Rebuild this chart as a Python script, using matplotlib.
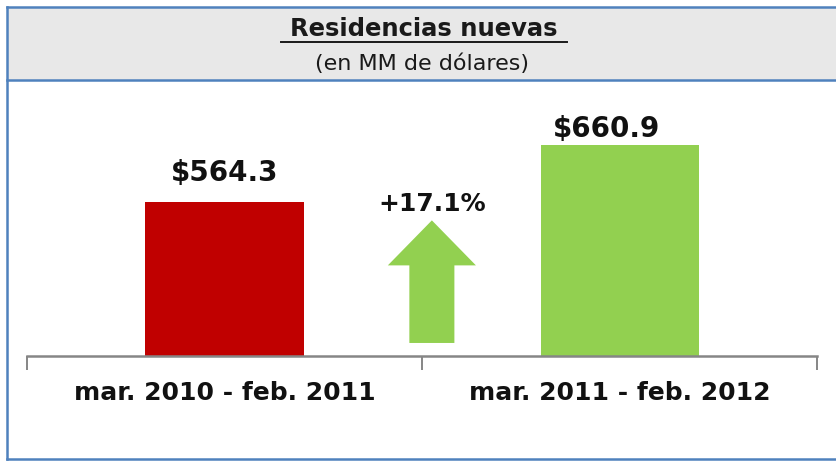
import matplotlib
matplotlib.use("Agg")
import matplotlib.pyplot as plt
from matplotlib.patches import Rectangle, FancyArrow
from matplotlib.lines import Line2D

# Data
categories = ["mar. 2010 - feb. 2011", "mar. 2011 - feb. 2012"]
values = [564.3, 660.9]
value_labels = ["$564.3", "$660.9"]
change_label = "+17.1%"
title = "Residencias nuevas"
subtitle = "(en MM de dólares)"

bar_colors = ["#C00000", "#92D050"]
arrow_color = "#92D050"
frame_color = "#4F81BD"
axis_color = "#868686"

W, H = 837, 461
fig = plt.figure(figsize=(W / 100, H / 100), dpi=100)
fig.patch.set_facecolor("white")

def fx(px):
    return px / W

def fy(py):
    return 1 - py / H

# Header band and frame (open on the right side)
fig.patches.append(Rectangle((fx(7), fy(80)), 1 - fx(7), fy(7) - fy(80),
                             transform=fig.transFigure, facecolor="#E8E8E8",
                             edgecolor="none", zorder=0))
for xs, ys in [([fx(7), 1], [fy(7), fy(7)]),
               ([fx(7), 1], [fy(80), fy(80)]),
               ([fx(7), 1], [fy(459), fy(459)]),
               ([fx(7), fx(7)], [fy(7), fy(459)])]:
    fig.lines.append(Line2D(xs, ys, transform=fig.transFigure,
                            color=frame_color, linewidth=1.8))

fig.text(fx(424), fy(29), title, ha="center", va="center", fontsize=17.5,
         fontweight="bold", color="#1a1a1a")
fig.lines.append(Line2D([fx(281), fx(567)], [fy(42), fy(42)],
                        transform=fig.transFigure, color="#1a1a1a", linewidth=1.4))
fig.text(fx(422), fy(64), subtitle, ha="center", va="center", fontsize=16,
         color="#1a1a1a")

# Plot area
ax = fig.add_axes([fx(27), fy(356), fx(817) - fx(27), fy(80) - fy(356)])
ax.set_facecolor("none")
ymin, ymax = 305, 771
ax.set_xlim(-0.5, 1.5)
ax.set_ylim(ymin, ymax)

x = list(range(len(categories)))
ax.bar(x, [v - ymin for v in values], bottom=ymin, width=0.4, color=bar_colors, zorder=2)

label_dx = [0.0, -0.033]
label_dy = [49, 28]
for xi, v, lab, dx, dy in zip(x, values, value_labels, label_dx, label_dy):
    ax.text(xi + dx, v + dy, lab, ha="center", va="center", fontsize=20,
            fontweight="bold", color="#111111")

# Growth arrow between the bars
ax.add_patch(FancyArrow(0.525, 327, 0, 207, width=0.114, head_width=0.223,
                        head_length=76, length_includes_head=True,
                        color=arrow_color, linewidth=0, zorder=2))
ax.text(0.525, 561, change_label, ha="center", va="center", fontsize=18,
        fontweight="bold", color="#111111")

for s in ["top", "right", "left"]:
    ax.spines[s].set_visible(False)
ax.spines["bottom"].set_color(axis_color)
ax.spines["bottom"].set_linewidth(1.8)
ax.set_yticks([])
ax.set_xticks([-0.5, 0.5, 1.5])
ax.set_xticklabels([])
ax.tick_params(axis="x", length=10, width=1.4, color=axis_color)
ax.set_xticks(x, minor=True)
ax.set_xticklabels(categories, minor=True, fontsize=18, fontweight="bold", color="#111111")
ax.tick_params(axis="x", which="minor", length=0, pad=18)

fig.savefig("out.png", dpi=100)
